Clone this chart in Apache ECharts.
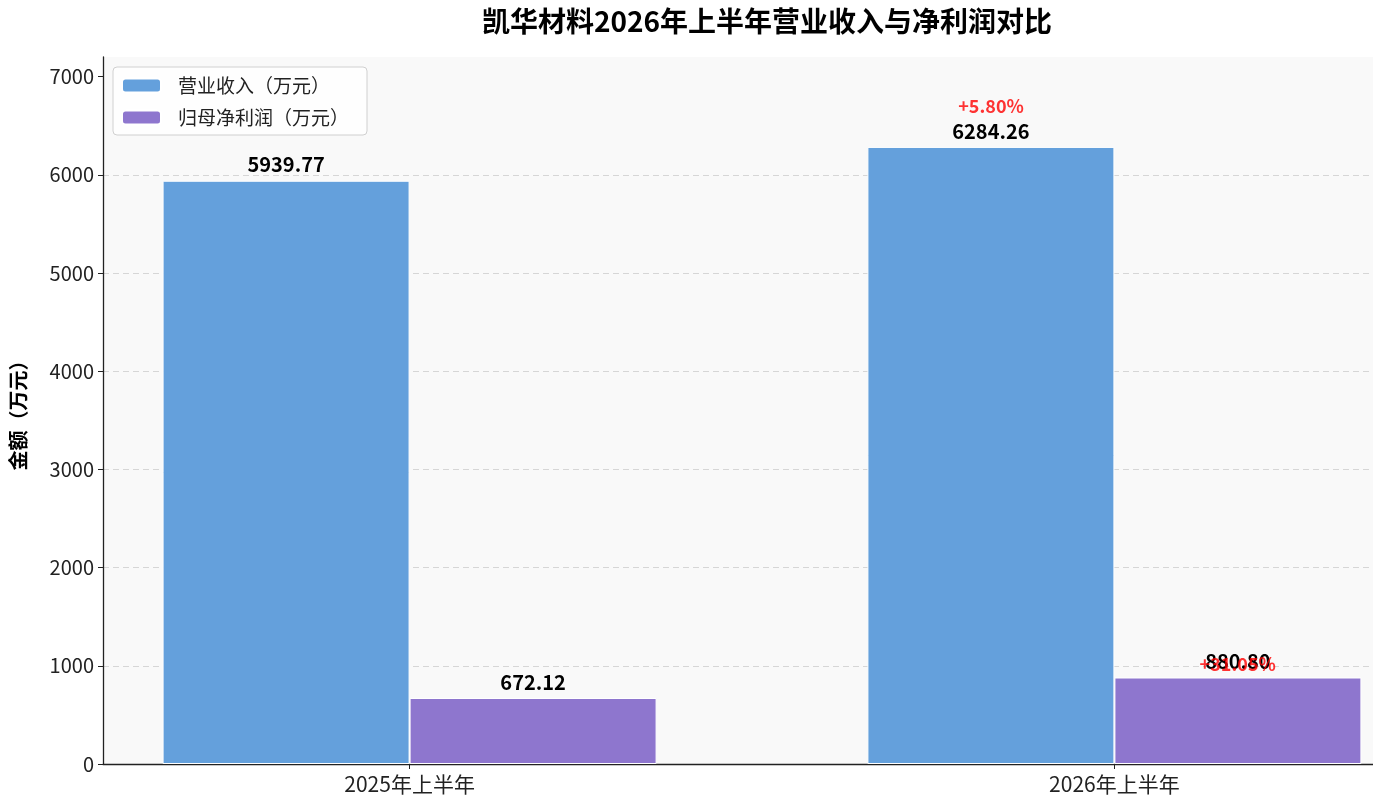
<!DOCTYPE html>
<html>
<head>
<meta charset="utf-8">
<script src="https://cdn.jsdelivr.net/npm/echarts@6/dist/echarts.min.js"></script>
<style>
    html, body { margin: 0; padding: 0; background: #ffffff; }
    #chart { width: 1373px; height: 804px; }
</style>
</head>
<body>
<div id="chart"></div>
<script>
// 数据
var categories = ['2025年上半年', '2026年上半年'];
var revenue = [5939.77, 6284.26];      // 营业收入（万元）
var netProfit = [672.12, 880.80];      // 归母净利润（万元）
var growthLabels = ['+5.80%', '+31.05%'];  // 2026 同比增长
var yTicks = [0, 1000, 2000, 3000, 4000, 5000, 6000, 7000];

var barW = 0.35;   // 每根柱子在 x 轴上的宽度（数据单位）
var fontCJK = '"Noto Sans CJK SC", "Noto Sans", sans-serif';

var myChart = echarts.init(document.getElementById('chart'));

function pairs(arr) {
    return arr.map(function (v, i) { return [i, v]; });
}

var valueLabel = {
    show: true,
    position: 'top',
    distance: 6,
    formatter: function (p) { return p.value[1].toFixed(2); },
    fontFamily: fontCJK,
    fontSize: 20,
    fontWeight: 'bold',
    color: '#000'
};

var option = {
    backgroundColor: '#ffffff',
    title: {
        text: '凯华材料2026年上半年营业收入与净利润对比',
        left: 762,
        top: 2,
        textAlign: 'center',
        textStyle: {
            fontFamily: fontCJK,
            fontSize: 28,
            fontWeight: 'bold',
            color: '#000'
        }
    },
    legend: {
        orient: 'vertical',
        left: 113,
        top: 67,
        padding: [9, 18, 8, 8],
        itemWidth: 39,
        itemHeight: 14,
        itemGap: 13,
        borderColor: '#d0d0d0',
        borderWidth: 1,
        borderRadius: 4,
        backgroundColor: 'rgba(255,255,255,0.8)',
        data: ['营业收入（万元）', '归母净利润（万元）'],
        textStyle: {
            fontFamily: fontCJK,
            fontSize: 19,
            color: '#222',
            padding: [0, 0, 0, 12]
        }
    },
    grid: {
        left: 103,
        top: 57,
        width: 1318,
        bottom: 40,
        outerBoundsMode: 'none',
        show: true,
        backgroundColor: '#f9f9f9',
        borderWidth: 0
    },
    xAxis: {
        type: 'value',
        min: -0.435,
        max: 1.435,
        splitLine: { show: false },
        axisLine: { show: true, onZero: false, lineStyle: { color: '#222', width: 1.3 } },
        axisTick: {
            show: true,
            customValues: [0, 1],
            length: 5,
            lineStyle: { color: '#222' }
        },
        axisLabel: {
            customValues: [0, 1],
            formatter: function (v) { return categories[Math.round(v)]; },
            fontFamily: fontCJK,
            fontSize: 21,
            color: '#222',
            margin: 10
        }
    },
    yAxis: {
        type: 'value',
        min: 0,
        max: 7200,
        name: '金额（万元）',
        nameLocation: 'middle',
        nameGap: 75,
        nameRotate: 90,
        nameTextStyle: {
            fontFamily: fontCJK,
            fontSize: 20,
            fontWeight: 'bold',
            color: '#000'
        },
        axisLine: { show: true, onZero: false, lineStyle: { color: '#222', width: 1.3 } },
        axisTick: {
            show: true,
            customValues: yTicks,
            length: 5,
            lineStyle: { color: '#222' }
        },
        axisLabel: {
            customValues: yTicks,
            formatter: function (v) { return String(v); },
            fontFamily: fontCJK,
            fontSize: 20,
            color: '#222',
            margin: 9
        },
        splitLine: {
            show: true,
            showMaxLine: false,
            lineStyle: { color: '#d6d6d6', type: [6, 4], width: 1 }
        }
    },
    series: [{
        name: '营业收入（万元）',
        type: 'bar',
        barWidth: 247,
        barGap: '0%',
        data: pairs(revenue),
        itemStyle: { color: '#64a0dc', borderColor: '#ffffff', borderWidth: 1 },
        label: valueLabel
    }, {
        name: '归母净利润（万元）',
        type: 'bar',
        barWidth: 247,
        barGap: '0%',
        data: pairs(netProfit),
        itemStyle: { color: '#8e76ce', borderColor: '#ffffff', borderWidth: 1 },
        label: valueLabel
    }, {
        // 同比增长标注（仅 2026），画在数值标签之上
        name: 'growth',
        type: 'scatter',
        symbolSize: 1,
        zlevel: 1,
        z: 10,
        silent: true,
        itemStyle: { color: 'transparent' },
        data: [
            [1 - barW / 2, revenue[1] * 1.05],
            [1 + barW / 2, netProfit[1] * 1.05]
        ],
        label: {
            show: true,
            position: 'top',
            distance: 0,
            formatter: function (p) { return growthLabels[p.dataIndex]; },
            fontFamily: fontCJK,
            fontSize: 18,
            fontWeight: 'bold',
            color: '#ff0000'
        }
    }]
};

myChart.setOption(option);
</script>
</body>
</html>
